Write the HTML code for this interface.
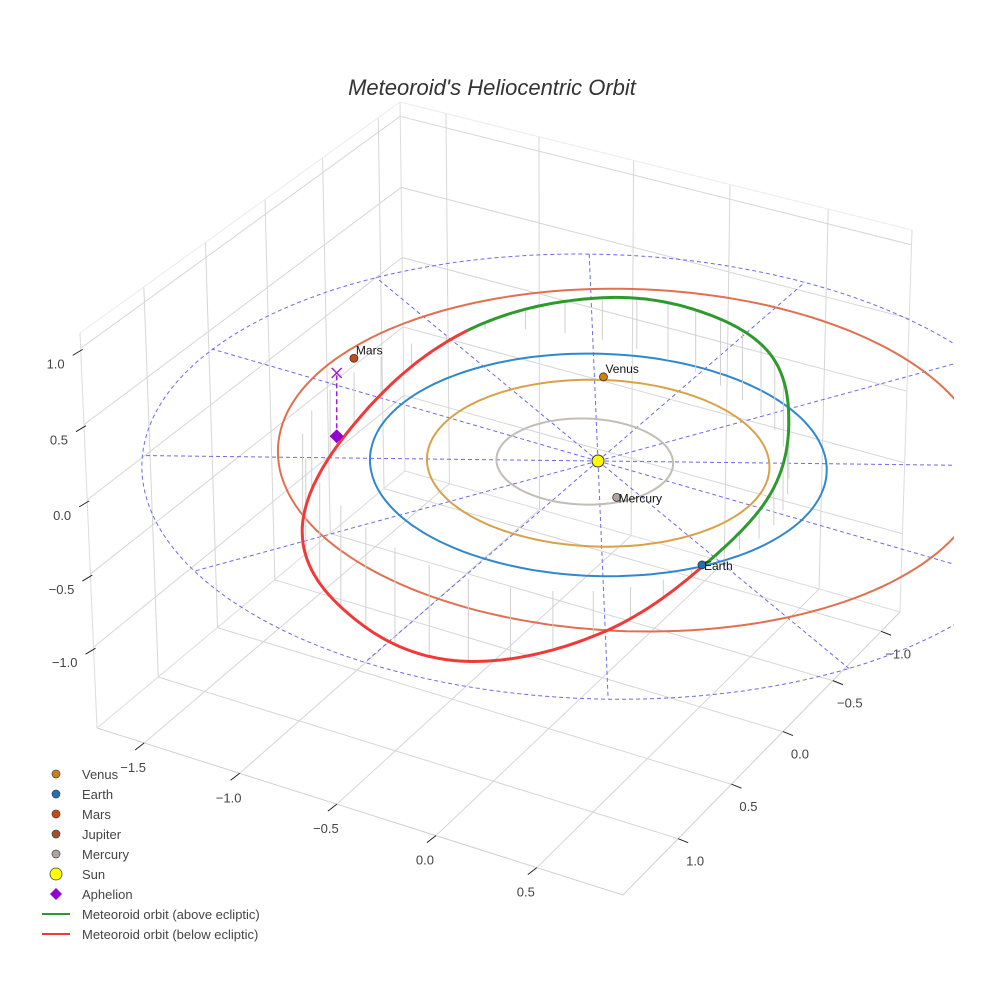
<!DOCTYPE html>
<html><head><meta charset="utf-8">
<style>
html,body{margin:0;padding:0;background:#fff;}
svg{display:block;font-family:"Liberation Sans",sans-serif;}
</style></head>
<body>
<svg id="chart" width="984" height="984" viewBox="0 0 984 984" xmlns="http://www.w3.org/2000/svg">
<defs><clipPath id="sceneClip"><rect x="0" y="0" width="954" height="984"/></clipPath></defs>
<text x="492" y="95" text-anchor="middle" font-size="22" font-style="italic" fill="#333">Meteoroid's Heliocentric Orbit</text>
<g id="box"></g>
<g id="ticks"></g>
<g id="scene" clip-path="url(#sceneClip)"></g>
<g id="legend"></g>
</svg>
<script>
// ---- data arrays ----
const xTicks = [-1.5, -1.0, -0.5, 0.0, 0.5];
const yTicks = [-1.0, -0.5, 0.0, 0.5, 1.0];
const zTicks = [-1.0, -0.5, 0.0, 0.5, 1.0];
const xTickLabels = ["\u22121.5","\u22121.0","\u22120.5","0.0","0.5"];
const yTickLabels = ["\u22121.0","\u22120.5","0.0","0.5","1.0"];
const zTickLabels = ["\u22121.0","\u22120.5","0.0","0.5","1.0"];
const xRange = [-1.75, 0.92];
const yRange = [-1.2, 1.5];
const zRange = [-1.56, 1.1];

const planetNames = ["Mercury","Venus","Earth","Mars"];
const planetOrbitRadius = [0.387, 0.75, 1.0, 1.55];
const planetOrbitCenterX = [-0.05, 0.0, 0.0, 0.076];
const planetOrbitCenterY = [0.03, 0.0, 0.0, -0.155];
const planetPosRadius = [0.33, 0.78, 0.99, 1.43];
const planetPosAngleDeg = [47, 243, 34.7, 190.5];
const planetOrbitColors = ["#c4bcb6","#d9a24a","#3088cc","#e0704f"];
const planetMarkerColors = ["#b0a49c","#d07f10","#1f6fb8","#cc4a12"];

// meteoroid orbit plane and sampled radius vs. argument of latitude
const meteorIncDeg = 30;
const meteorNodeDeg = 214.7;
const meteorLatArgDeg = [0, 30, 60, 90, 120, 150, 180, 210, 240, 270, 300, 330];
const meteorRadius    = [1.34, 1.18, 1.04, 0.98, 0.93, 0.96, 1.0, 1.16, 1.31, 1.37, 1.46, 1.39];
const aphelionXYZ = [-1.40, -0.10, -0.45];

const spokeAnglesDeg = [0,30,60,90,120,150,180,210,240,270,300,330];
const gridCircleRadii = [1.0, 2.0];
const spokeLength = [2.0];

// ---- projection for scene (ecliptic coords) ----
function P(x,y,z){
  const v=(58*x+95*y)/111;
  const f=1+0.035*v;
  return [598+f*(200*x-110*y), 461+f*(58*x+95*y-145*z)];
}
const NS="http://www.w3.org/2000/svg";
function mk(tag,attrs,parent){const e=document.createElementNS(NS,tag);for(const k in attrs)e.setAttribute(k,attrs[k]);parent.appendChild(e);return e;}
function pathOf(pts){return pts.map((p,i)=>(i?"L":"M")+p[0].toFixed(1)+" "+p[1].toFixed(1)).join(" ");}

// ---- box via face homographies ----
const Dp=[405,471],Cp=[900,612],Bp=[623,895],Ap=[97,728],At=[80,333],Dt=[400,102],Ct=[912,230];
function quad(p0,p1,p2,p3){
  const [x0,y0]=p0,[x1,y1]=p1,[x2,y2]=p2,[x3,y3]=p3;
  const sx=x0-x1+x2-x3, sy=y0-y1+y2-y3;
  const dx1=x1-x2,dx2=x3-x2,dy1=y1-y2,dy2=y3-y2;
  const den=dx1*dy2-dx2*dy1;
  const g=(sx*dy2-dx2*sy)/den, h=(dx1*sy-sx*dy1)/den;
  const a=x1-x0+g*x1,b=x3-x0+h*x3,c=x0,d=y1-y0+g*y1,e=y3-y0+h*y3,f=y0;
  return (u,v)=>{const w=g*u+h*v+1;return [(a*u+b*v+c)/w,(d*u+e*v+f)/w];};
}
const floorF=quad(Dp,Cp,Bp,Ap);
const leftF=quad(Dp,Ap,At,Dt);
const backF=quad(Dp,Cp,Ct,Dt);
const fx=x=>(x-xRange[0])/(xRange[1]-xRange[0]);
const fy=y=>(y-yRange[0])/(yRange[1]-yRange[0]);
const fz=z=>(z-zRange[0])/(zRange[1]-zRange[0]);
const box=document.getElementById('box');
function gl(p,q,name,col,w){
  const l=mk('line',{x1:p[0],y1:p[1],x2:q[0],y2:q[1],stroke:col||'#d6d6d6','stroke-width':w||1},box);
  
  
}
xTicks.forEach(x=>{gl(floorF(fx(x),0),floorF(fx(x),1),'floor-gridline-x');gl(backF(fx(x),0),backF(fx(x),1),'back-wall-gridline-x');});
yTicks.forEach(y=>{gl(floorF(0,fy(y)),floorF(1,fy(y)),'floor-gridline-y');gl(leftF(fy(y),0),leftF(fy(y),1),'left-wall-gridline-y');});
zTicks.forEach(z=>{gl(leftF(0,fz(z)),leftF(1,fz(z)),'left-wall-gridline-z');gl(backF(0,fz(z)),backF(1,fz(z)),'back-wall-gridline-z');});
gl(At,Dt,'box-edge','#ebebeb');gl(Dt,Ct,'box-edge','#ebebeb');
gl(At,Ap,'box-edge','#dcdcdc');gl(Ct,Cp,'box-edge','#dcdcdc');gl(Dt,Dp,'box-edge','#dcdcdc');
gl(Ap,Bp,'x-axis-line','#d0d0d0');gl(Bp,Cp,'y-axis-line','#d0d0d0');
gl(Ap,Dp,'box-edge','#dcdcdc');gl(Dp,Cp,'box-edge','#dcdcdc');

// ---- ticks and labels ----
const tg=document.getElementById('ticks');
function tickLine(p,q,name){const l=mk('line',{x1:p[0],y1:p[1],x2:q[0],y2:q[1],stroke:'#222','stroke-width':1},tg);}
function tickText(x,y,s,anchor,name){const t=mk('text',{x:x,y:y,'text-anchor':anchor,'font-size':13,fill:'#444'},tg);t.textContent=s;}
xTicks.forEach((x,i)=>{const p=floorF(fx(x),1);tickLine(p,[p[0]-9,p[1]+7],'x-tick');tickText(p[0]-11,p[1]+29,xTickLabels[i],'middle','x-tick-label');});
yTicks.forEach((y,i)=>{const p=floorF(1,fy(y));tickLine(p,[p[0]+10,p[1]+4],'y-tick');tickText(p[0]+17,p[1]+27,yTickLabels[i],'middle','y-tick-label');});
zTicks.forEach((z,i)=>{const p=leftF(1,fz(z));tickLine([p[0]+2,p[1]+1],[p[0]-8,p[1]+7],'z-tick');tickText(p[0]-16,p[1]+20,zTickLabels[i],'end','z-tick-label');});

// ---- scene ----
const sc=document.getElementById('scene');
const rad=d=>d*Math.PI/180;
spokeAnglesDeg.forEach(a=>{
  const p=P(0,0,0),q=P(spokeLength[0]*Math.cos(rad(a)),spokeLength[0]*Math.sin(rad(a)),0);
  const l=mk('line',{x1:p[0],y1:p[1],x2:q[0],y2:q[1],stroke:'#6b6be6','stroke-width':1,'stroke-dasharray':'4,3'},sc);
  
  
});
gridCircleRadii.forEach(r=>{
  const pts=[];for(let k=0;k<=180;k++){const t=rad(k*2);pts.push(P(r*Math.cos(t),r*Math.sin(t),0));}
  const e=mk('path',{d:pathOf(pts),fill:'none',stroke:'#6b6be6','stroke-width':1,'stroke-dasharray':'4,3'},sc);
  
  
});
planetNames.forEach((n,i)=>{
  const pts=[];for(let k=0;k<=180;k++){const t=rad(k*2);pts.push(P(planetOrbitCenterX[i]+planetOrbitRadius[i]*Math.cos(t),planetOrbitCenterY[i]+planetOrbitRadius[i]*Math.sin(t),0));}
  const e=mk('path',{d:pathOf(pts),fill:'none',stroke:planetOrbitColors[i],'stroke-width':2},sc);
  
  
});
function rAt(uDeg){
  const n=meteorRadius.length,step=360/n;
  let t=((uDeg%360)+360)%360/step;const i=Math.floor(t);t-=i;
  const g=k=>meteorRadius[((k%n)+n)%n];
  const p0=g(i-1),p1=g(i),p2=g(i+1),p3=g(i+2);
  return 0.5*((2*p1)+(-p0+p2)*t+(2*p0-5*p1+4*p2-p3)*t*t+(-p0+3*p1-3*p2+p3)*t*t*t);
}
function meteorPos(uDeg){
  const r=rAt(uDeg),u=rad(uDeg),O=rad(meteorNodeDeg),inc=rad(meteorIncDeg);
  return [r*(Math.cos(O)*Math.cos(u)-Math.sin(O)*Math.sin(u)*Math.cos(inc)),
          r*(Math.sin(O)*Math.cos(u)+Math.cos(O)*Math.sin(u)*Math.cos(inc)),
          r*Math.sin(u)*Math.sin(inc)];
}
for(let k=0;k<40;k++){
  const m=meteorPos(k*9+4);const p=P(m[0],m[1],m[2]),q=P(m[0],m[1],0);
  const l=mk('line',{x1:p[0],y1:p[1],x2:q[0],y2:q[1],stroke:'#d0d0d0','stroke-width':1},sc);
  
  
}
[[0,180,'#2e9a2e','meteoroid-orbit-above'],[180,360,'#f03a3a','meteoroid-orbit-below']].forEach(s=>{
  const pts=[];for(let u=s[0];u<=s[1];u+=1){const m=meteorPos(u);pts.push(P(m[0],m[1],m[2]));}
  const e=mk('path',{d:pathOf(pts),fill:'none',stroke:s[2],'stroke-width':3,'stroke-linejoin':'round'},sc);
  
  
});
{
  const m=aphelionXYZ;const p=P(m[0],m[1],m[2]),q=P(m[0],m[1],0);
  const l=mk('line',{x1:p[0],y1:p[1],x2:q[0],y2:q[1],stroke:'#9b1fd6','stroke-width':1.5,'stroke-dasharray':'5,3'},sc);
  
  
  const x=mk('path',{d:`M${q[0]-5} ${q[1]-5}L${q[0]+5} ${q[1]+5}M${q[0]+5} ${q[1]-5}L${q[0]-5} ${q[1]+5}`,stroke:'#9b1fd6','stroke-width':1.5},sc);
  
  
  const d=mk('path',{d:`M${p[0]} ${p[1]-7}L${p[0]+7} ${p[1]}L${p[0]} ${p[1]+7}L${p[0]-7} ${p[1]}Z`,fill:'#9400d3'},sc);
  
  
}
planetNames.forEach((n,i)=>{
  const a=rad(planetPosAngleDeg[i]);const p=P(planetPosRadius[i]*Math.cos(a),planetPosRadius[i]*Math.sin(a),0);
  const c=mk('circle',{cx:p[0],cy:p[1],r:4,fill:planetMarkerColors[i],stroke:'#333','stroke-width':0.8},sc);
  
  
  const t=mk('text',{x:p[0]+2,y:p[1]-4,'font-size':12,fill:'#111'},sc);t.textContent=n;
  if(n==='Mercury'||n==='Earth'){t.setAttribute('x',p[0]+2);t.setAttribute('y',p[1]+5);}
  
  
});
{
  const p=P(0,0,0);
  const s=mk('circle',{cx:p[0],cy:p[1],r:6,fill:'#ffff00',stroke:'#333','stroke-width':1},sc);
  
  
}

// ---- legend ----
const legendLabels=["Venus","Earth","Mars","Jupiter","Mercury","Sun","Aphelion","Meteoroid orbit (above ecliptic)","Meteoroid orbit (below ecliptic)"];
const legendColors=["#c8801a","#1f6fb8","#cc4a12","#a0522d","#b0a49c","#ffff00","#9400d3","#2e9a2e","#f03a3a"];
const lg=document.getElementById('legend');
legendLabels.forEach((s,i)=>{
  const y=774+i*20;
  const g=mk('g',{},lg);
  
  
  if(i<5){mk('circle',{cx:56,cy:y,r:4,fill:legendColors[i],stroke:'#444','stroke-width':0.7},g);}
  else if(i===5){mk('circle',{cx:56,cy:y,r:6,fill:legendColors[i],stroke:'#444','stroke-width':0.8},g);}
  else if(i===6){mk('path',{d:`M56 ${y-6}L62 ${y}L56 ${y+6}L50 ${y}Z`,fill:legendColors[i]},g);}
  else{mk('line',{x1:42,y1:y,x2:70,y2:y,stroke:legendColors[i],'stroke-width':2},g);}
  const t=mk('text',{x:82,y:y+5,'font-size':13,fill:'#444'},g);t.textContent=s;
});
</script>
</body></html>
